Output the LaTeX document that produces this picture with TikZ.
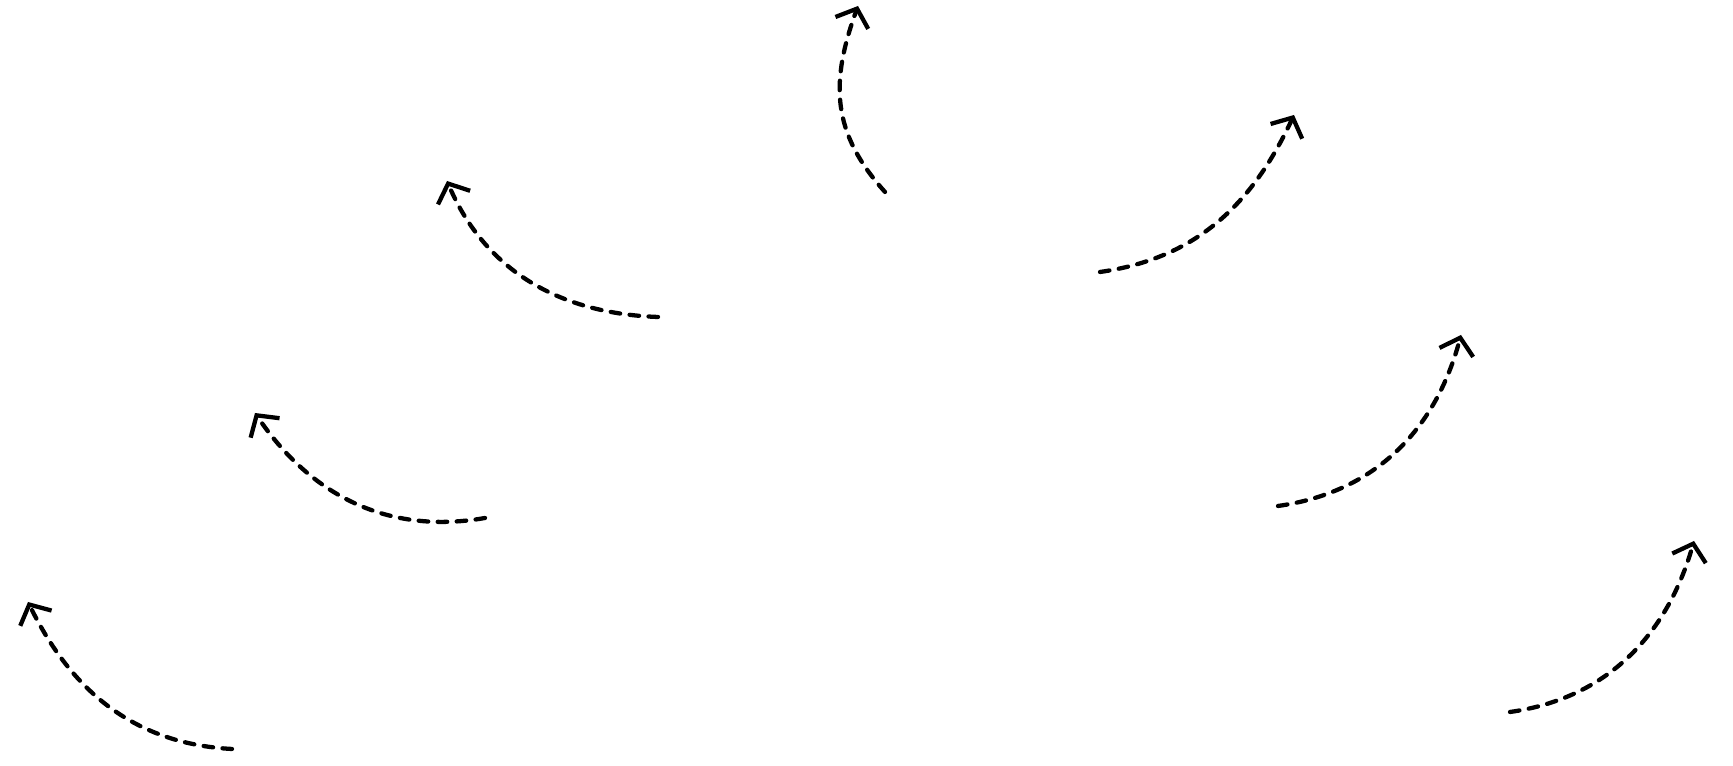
\documentclass[tikz,border=0pt]{standalone}
\usetikzlibrary{arrows.meta}
\tikzset{
  flow/.style={line width=1.35pt, dash pattern=on 3pt off 3pt, line cap=round,
    -{Straight Barb[length=4.8pt,width=11pt,line width=1.35pt]}}
}
\begin{document}
\begin{tikzpicture}[x=0.3155pt,y=0.3155pt]
\useasboundingbox (0,0) rectangle (1733,766);
% start and tip points (pixel-like units, y up)
\coordinate (sA) at (232,17);   \coordinate (tA) at (28,164);
\coordinate (sB) at (485,248);  \coordinate (tB) at (255,353);
\coordinate (sC) at (658,449);  \coordinate (tC) at (447,585);
\coordinate (sD) at (885,574);  \coordinate (tD) at (858,760);
\coordinate (sE) at (1100,494); \coordinate (tE) at (1294,651);
\coordinate (sF) at (1278,260); \coordinate (tF) at (1461,431);
\coordinate (sG) at (1510,54);  \coordinate (tG) at (1694,225);
\draw[flow] (sA) to[out=177,in=-64] (tA);
\draw[flow] (sB) to[out=190,in=-56] (tB);
\draw[flow] (sC) to[out=178,in=-67] (tC);
\draw[flow] (sD) to[out=132,in=-110,looseness=1.1] (tD);
\draw[flow] (sE) to[out=8,in=245] (tE);
\draw[flow] (sF) to[out=8,in=255] (tF);
\draw[flow] (sG) to[out=8,in=254] (tG);
\end{tikzpicture}
\end{document}
